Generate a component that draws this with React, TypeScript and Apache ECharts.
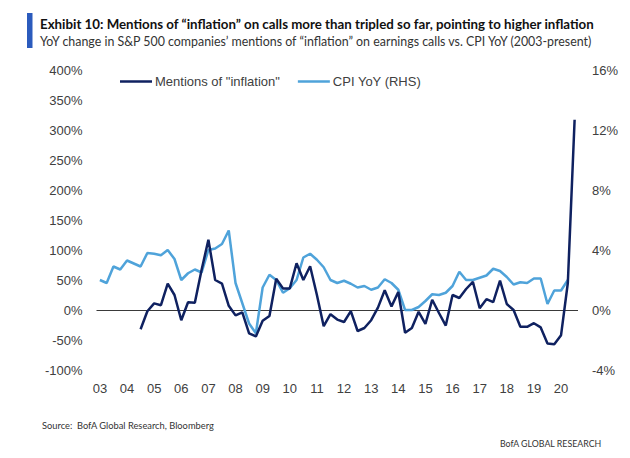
import React, { useEffect, useRef } from "react";
import * as echarts from "echarts";

const years = ["03","04","05","06","07","08","09","10","11","12","13","14","15","16","17","18","19","20"];
const quarters: string[] = [];
years.forEach((y) => { ["Q1","Q2","Q3","Q4"].forEach((q) => quarters.push(y + q)); });
const categories = quarters.slice(0, 71);

const mentions: (number | null)[] = [
  null, null, null, null, null, null, -32, -2, 11, 8,
  44, 25, -17, 13, 12, 67, 117, 50, 44, 7,
  -9, -4, -39, -44, -18, -10, 52, 36, 36, 78,
  50, 73, 25, -27, -7, -16, -20, -2, -35, -30,
  -17, 4, 33, 6, 30, -38, -30, -3, -23, 17,
  -5, -26, 25, 20, 35, 47, 3, 18, 13, 49,
  10, 0, -28, -28, -22, -29, -56, -57, -42, 45,
  317,
];

const cpi: (number | null)[] = [
  2.0, 1.8, 2.9, 2.7, 3.3, 3.1, 2.9, 3.8, 3.75, 3.65,
  4.0, 3.4, 2.0, 2.45, 2.7, 2.5, 4.0, 4.1, 4.4, 5.3,
  1.8, 0.45, -0.9, -1.55, 1.5, 2.35, 2.0, 1.15, 1.45, 2.0,
  3.5, 3.75, 3.35, 2.85, 2.0, 1.8, 1.95, 1.75, 1.5, 1.6,
  1.35, 1.5, 2.05, 1.8, 1.35, 0.0, 0.0, 0.2, 0.6, 1.05,
  1.0, 1.15, 1.6, 2.55, 2.0, 2.0, 2.15, 2.3, 2.75, 2.6,
  2.2, 1.7, 1.85, 1.8, 2.1, 2.1, 0.4, 1.3, 1.3, 2.0,
  null,
];

const TITLE = "Exhibit 10: Mentions of \u201Cinflation\u201D on calls more than tripled so far, pointing to higher inflation";
const SUBTITLE = "YoY change in S&P 500 companies\u2019 mentions of \u201Cinflation\u201D on earnings calls vs. CPI YoY (2003-present)";
const SOURCE = "Source:  BofA Global Research, Bloomberg";
const BRAND = "BofA GLOBAL RESEARCH";
const NAME_MENTIONS = "Mentions of \"inflation\"";
const NAME_CPI = "CPI YoY (RHS)";

const NAVY = "#0f2160";
const LIGHT = "#4fa3da";
const TEXT = "#404040";
const FONT = "Liberation Sans";
const HEAD = "Lato";

function fitSize(text: string, weight: string, family: string, target: number, maxSize: number): number {
  const c = document.createElement("canvas").getContext("2d");
  if (!c) return maxSize;
  c.font = `${weight} 20px "${family}"`;
  const w = c.measureText(text).width;
  if (!w) return maxSize;
  return Math.min(maxSize, Math.round((20 * target / w) * 10) / 10);
}

export default function App() {
  const ref = useRef<HTMLDivElement>(null);
  useEffect(() => {
    if (!ref.current) return;
    const tSize = fitSize(TITLE, "bold", HEAD, 553, 15);
    const sSize = fitSize(SUBTITLE, "normal", HEAD, 554, 15);
    const srcSize = fitSize(SOURCE, "normal", HEAD, 172, 12);
    const brSize = fitSize(BRAND, "normal", HEAD, 102, 12);
    const chart = echarts.init(ref.current, null, { renderer: "svg" });
    chart.setOption({
      animation: false,
      backgroundColor: "#ffffff",
      grid: { left: 96.5, right: 52, top: 70, bottom: 88, containLabel: false },
      legend: {
        top: 75,
        left: 120,
        padding: 0,
        itemWidth: 32,
        itemHeight: 2.5,
        itemGap: 18,
        icon: "rect",
        textStyle: { fontFamily: FONT, fontSize: 13, color: TEXT, padding: [0, 0, 0, -2] },
        data: [
          { name: NAME_MENTIONS, icon: "rect", itemStyle: { color: NAVY } },
          { name: NAME_CPI, icon: "rect", itemStyle: { color: LIGHT } },
        ],
      },
      xAxis: {
        type: "category",
        data: categories,
        boundaryGap: true,
        axisLine: { show: false },
        axisTick: { show: false },
        splitLine: { show: false },
        axisLabel: {
          interval: 3,
          margin: 12,
          fontFamily: FONT,
          fontSize: 13,
          color: TEXT,
          formatter: (v: string) => v.slice(0, 2),
        },
      },
      yAxis: [
        {
          type: "value",
          min: -100,
          max: 400,
          interval: 50,
          axisLine: { show: false },
          axisTick: { show: false },
          splitLine: { show: false },
          axisLabel: { margin: 14, fontFamily: FONT, fontSize: 13, color: TEXT, formatter: "{value}%" },
        },
        {
          type: "value",
          min: -4,
          max: 16,
          interval: 4,
          axisLine: { show: false },
          axisTick: { show: false },
          splitLine: { show: false },
          axisLabel: { margin: 14, fontFamily: FONT, fontSize: 13, color: TEXT, formatter: "{value}%" },
        },
      ],
      series: [
        {
          name: NAME_CPI,
          type: "line",
          yAxisIndex: 1,
          data: cpi,
          symbol: "none",
          lineStyle: { color: LIGHT, width: 2.5 },
          itemStyle: { color: LIGHT },
          z: 2,
        },
        {
          name: NAME_MENTIONS,
          type: "line",
          yAxisIndex: 0,
          data: mentions,
          symbol: "none",
          lineStyle: { color: NAVY, width: 2.5 },
          itemStyle: { color: NAVY },
          z: 3,
          markLine: {
            silent: true,
            symbol: "none",
            label: { show: false },
            lineStyle: { color: "#3a3a3a", width: 1.2, type: "solid" },
            data: [{ yAxis: 0 }],
            z: 1,
          },
        },
      ],
      graphic: [
        { type: "rect", left: 27, top: 13, shape: { width: 5.5, height: 35 }, style: { fill: "#2b5bbd" } },
        { type: "text", left: 40, top: 17.5, style: { text: TITLE, font: `bold ${tSize}px "${HEAD}"`, fill: "#111" } },
        { type: "text", left: 40, top: 35, style: { text: SUBTITLE, font: `${sSize}px "${HEAD}"`, fill: "#333" } },
        { type: "text", left: 42, top: 421, style: { text: SOURCE, font: `${srcSize}px "${HEAD}"`, fill: "#333" } },
        { type: "text", left: 500, top: 439, style: { text: BRAND, font: `${brSize}px "${HEAD}"`, fill: "#333" } },
      ],
    });
    return () => chart.dispose();
  }, []);
  return <div ref={ref} style={{ position: "absolute", left: 0, top: 0, width: 630, height: 458 }} />;
}
